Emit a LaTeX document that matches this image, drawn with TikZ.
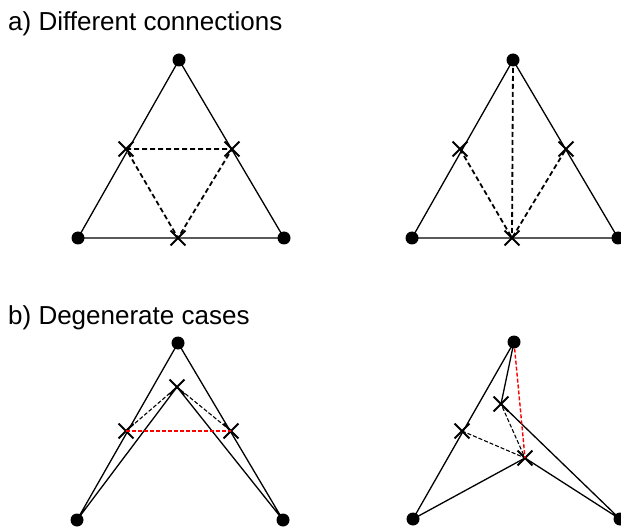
\documentclass[tikz,border=0pt]{standalone}
\usepackage{fontspec}
\setmainfont{Liberation Sans}
\usetikzlibrary{shapes.misc}

\begin{document}
\begin{tikzpicture}[x=1pt,y=-1pt,
    dot/.style={circle,fill,inner sep=0pt,minimum size=13pt},
    xmark/.style={cross out,draw,line width=1.8pt,inner sep=0pt,minimum size=13pt},
    edge/.style={line width=1.3pt},
    link/.style={line width=1.8pt,dash pattern=on 5pt off 3pt},
    thinlink/.style={line width=1.1pt,dash pattern=on 4pt off 2pt},
    redlink/.style={thinlink,line width=1.4pt,red},
    caption/.style={anchor=base west,inner sep=0pt,font=\fontsize{26}{31}\selectfont}]
  \useasboundingbox (0,0) rectangle (621,529);
  % captions
  \node[caption] (capa) at (8,31) {a) Different connections};
  \node[caption] (capb) at (8,324) {b) Degenerate cases};
  % a) left and right triangles
  \foreach \s/\dx in {l/0,r/334}{
    \node[dot] (t\s) at (179+\dx,60) {};
    \node[dot] (bl\s) at (78+\dx,238) {};
    \node[dot] (br\s) at (284+\dx,238) {};
    \node[xmark] (ml\s) at (126+\dx,149) {};
    \node[xmark] (mr\s) at (232+\dx,149) {};
    \node[xmark] (mb\s) at (178+\dx,238) {};
    \draw[edge] (t\s.center) -- (bl\s.center) -- (br\s.center) -- cycle;}
  \draw[link] (mll.center) -- (mrl.center) -- (mbl.center) -- cycle;
  \draw[link] (mlr.center) -- (mbr.center) -- (mrr.center);
  \draw[link] (tr.center) -- (mbr.center);
  % b) left: folded chevron
  \node[dot] (pt) at (178,343) {};
  \node[dot] (pl) at (77,520) {};
  \node[dot] (pr) at (283,520) {};
  \node[xmark] (pm) at (177,387) {};
  \node[xmark] (qa) at (126,431) {};
  \node[xmark] (qb) at (231,431) {};
  \draw[edge] (pl.center) -- (pt.center) -- (pr.center) -- (pm.center) -- cycle;
  \draw[thinlink] (qa.center) -- (pm.center) -- (qb.center);
  \draw[redlink] (qa.center) -- (qb.center);
  % b) right: inverted element
  \node[dot] (st) at (514,342) {};
  \node[dot] (sl) at (413,519) {};
  \node[dot] (sr) at (620,519) {};
  \node[xmark] (sp) at (501,404) {};
  \node[xmark] (sq) at (525,458) {};
  \node[xmark] (sa) at (462,431) {};
  \draw[edge] (sl.center) -- (st.center) -- (sp.center) -- (sr.center) -- (sq.center) -- cycle;
  \draw[thinlink] (sa.center) -- (sq.center) -- (sp.center);
  \draw[redlink] (st) -- (sq.center);
\end{tikzpicture}
\end{document}
